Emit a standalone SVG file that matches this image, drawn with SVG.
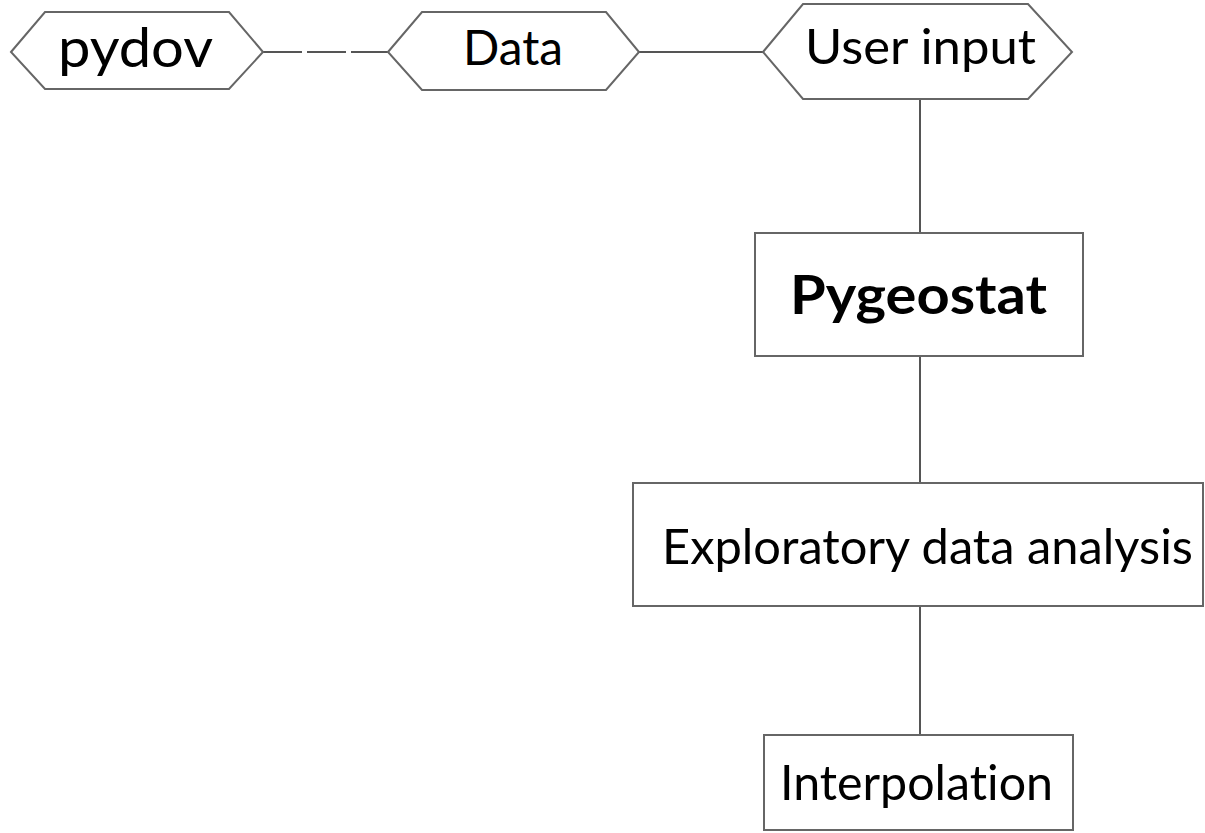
<svg xmlns="http://www.w3.org/2000/svg" width="1205" height="833" viewBox="0 0 1205 833">
<style>
.shape{fill:#fff;stroke:#666;stroke-width:2}
.conn{fill:none;stroke:#555;stroke-width:2}
.lbl{font-family:Lato,"Open Sans","Liberation Sans",sans-serif;fill:#000;text-anchor:middle;font-variant-ligatures:none;font-feature-settings:"liga" 0}
</style>
<rect width="1205" height="833" fill="#fff"/>
<g id="connectors">
<line class="conn" x1="263" y1="52" x2="388" y2="52" stroke-dasharray="39 5"/>
<line class="conn" x1="639" y1="52" x2="763" y2="52"/>
<line class="conn" x1="920" y1="99" x2="920" y2="233"/>
<line class="conn" x1="920" y1="356" x2="920" y2="483"/>
<line class="conn" x1="920" y1="606" x2="920" y2="735"/>
</g>
<g id="pydov">
<polygon class="shape" points="11,52 45,12 229,12 263,52 229,89 45,89"/>
<text class="lbl" x="135.5" y="67" font-size="55" textLength="155" lengthAdjust="spacingAndGlyphs">pydov</text>
</g>
<g id="data">
<polygon class="shape" points="388,52 422,12 606,12 639,52 606,90 422,90"/>
<text class="lbl" x="513" y="65" font-size="48" textLength="100" lengthAdjust="spacingAndGlyphs">Data</text>
</g>
<g id="user-input">
<polygon class="shape" points="763,52 803,4 1028,4 1072,52 1028,99 803,99"/>
<text class="lbl" x="920.5" y="64" font-size="48" textLength="231" lengthAdjust="spacingAndGlyphs">User input</text>
</g>
<g id="pygeostat">
<rect class="shape" x="755" y="233" width="328" height="123"/>
<text class="lbl" x="918.5" y="314" font-size="53" font-weight="bold" textLength="257" lengthAdjust="spacingAndGlyphs">Pygeostat</text>
</g>
<g id="eda">
<rect class="shape" x="633" y="483" width="570" height="123"/>
<text class="lbl" x="927.5" y="564" font-size="48" textLength="531" lengthAdjust="spacingAndGlyphs">Exploratory data analysis</text>
</g>
<g id="interpolation">
<rect class="shape" x="764" y="735" width="309" height="95"/>
<text class="lbl" x="916.5" y="800" font-size="48" textLength="273" lengthAdjust="spacingAndGlyphs">Interpolation</text>
</g>
</svg>
